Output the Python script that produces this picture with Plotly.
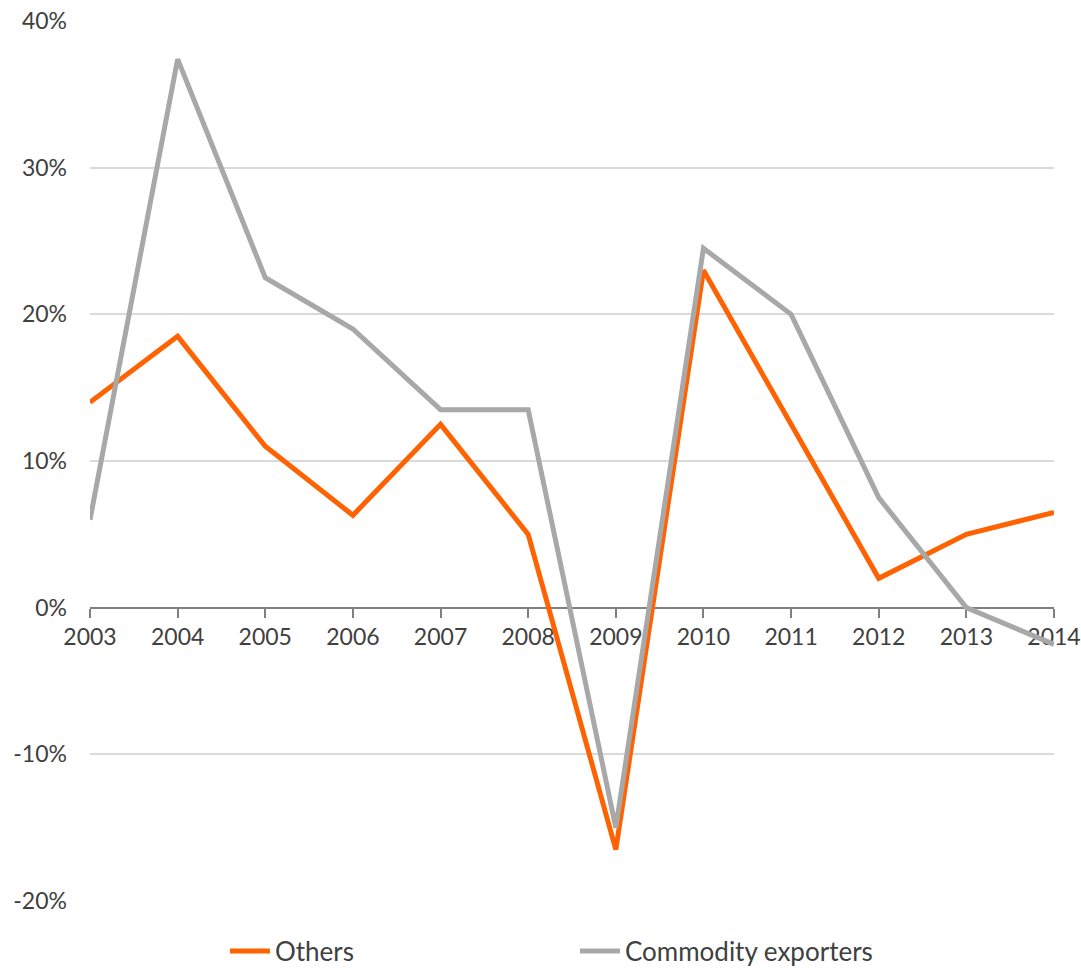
import plotly.graph_objects as go

years = [2003, 2004, 2005, 2006, 2007, 2008, 2009, 2010, 2011, 2012, 2013, 2014]
others = [14.0, 18.5, 11.0, 6.3, 12.5, 5.0, -16.5, 23.0, 12.5, 2.0, 5.0, 6.5]
commodity = [6.0, 37.4, 22.5, 19.0, 13.5, 13.5, -15.0, 24.5, 20.0, 7.5, 0.0, -2.5]
y_ticks = [-20, -10, 0, 10, 20, 30, 40]
y_labels = ["-20%", "-10%", "0%", "10%", "20%", "30%", "40%"]

FONT = "Lato"
TXT = "#404040"

fig = go.Figure()
fig.add_trace(go.Scatter(x=years, y=others, mode="lines", name="Others",
                         line=dict(color="#FF6200", width=5)))
fig.add_trace(go.Scatter(x=years, y=commodity, mode="lines", name="Commodity exporters",
                         line=dict(color="#A8A8A8", width=5)))

fig.update_layout(
    width=1081, height=970,
    margin=dict(l=90, r=27, t=21, b=69, autoexpand=False),
    paper_bgcolor="white", plot_bgcolor="white",
    font=dict(family=FONT, size=23, color=TXT),
    showlegend=True,
    legend=dict(orientation="h", x=0.14, xanchor="left", y=-0.057, yanchor="middle",
                entrywidth=295, entrywidthmode="pixels",
                font=dict(family=FONT, size=26, color=TXT),
                itemwidth=40, traceorder="normal",
                bgcolor="rgba(0,0,0,0)"),
    xaxis=dict(range=[2003, 2014], tickvals=years, ticktext=[str(y) for y in years],
               anchor="free", position=1/3, showgrid=False, zeroline=False,
               showline=True, linecolor="#808080", linewidth=2,
               ticks="outside", ticklen=9, tickwidth=2, tickcolor="#808080",
               tickfont=dict(family=FONT, size=23, color=TXT),
               layer="below traces", automargin=False),
    yaxis=dict(range=[-20, 40], tickvals=y_ticks, ticktext=y_labels,
               showgrid=True, gridcolor="#DADADA", gridwidth=1.5,
               zeroline=False, showline=False, ticks="",
               ticklabelstandoff=22, automargin=False,
               tickfont=dict(family=FONT, size=23, color=TXT)),
)

fig.write_html("out.html")
